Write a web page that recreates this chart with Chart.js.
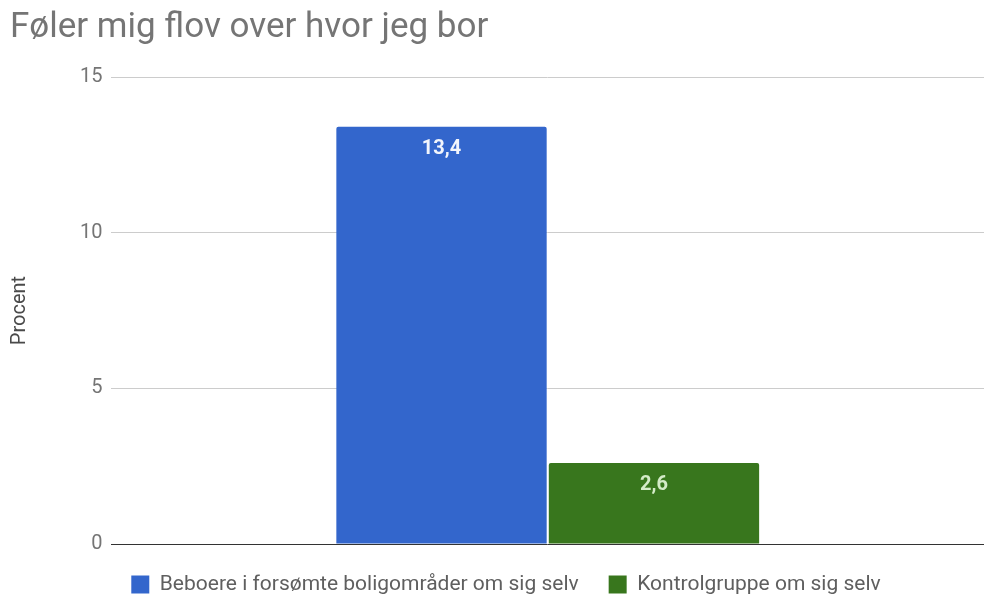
<!DOCTYPE html>
<html>
<head>
<meta charset="utf-8">
<script src="https://cdn.jsdelivr.net/npm/chart.js@4/dist/chart.umd.min.js"></script>
<style>
html,body{margin:0;padding:0;background:#fff;}
#wrap{position:absolute;left:0;top:0;width:984px;height:597px;}
</style>
</head>
<body>
<div id="wrap"><canvas id="c" width="984" height="597"></canvas></div>
<script>
const categories = [""];
const seriesNames = ["Beboere i forsømte boligområder om sig selv", "Kontrolgruppe om sig selv"];
const beboere = [13.4];
const kontrol = [2.6];
const yTicks = [0, 5, 10, 15];
const titleText = "Føler mig flov over hvor jeg bor";
const yTitle = "Procent";

const labelPlugin = {
  id: 'barLabels',
  afterLayout(chart) {
    if (chart.legend) { chart.legend.left += 18; }
  },
  afterDatasetsDraw(chart) {
    const ctx = chart.ctx;
    const colors = ['#f2f5fc', '#d4ebc8'];
    chart.data.datasets.forEach((ds, i) => {
      const meta = chart.getDatasetMeta(i);
      meta.data.forEach((bar, j) => {
        const v = ds.data[j];
        ctx.save();
        ctx.font = 'bold 20px Roboto';
        ctx.fillStyle = colors[i];
        ctx.textAlign = 'center';
        ctx.textBaseline = 'middle';
        ctx.fillText(String(v).replace('.', ','), bar.x, bar.y + 22);
        ctx.restore();
      });
    });
  }
};

new Chart(document.getElementById('c'), {
  type: 'bar',
  data: {
    labels: categories,
    datasets: [
      { label: seriesNames[0], data: beboere, backgroundColor: '#3366cc', borderRadius: {topLeft: 2, topRight: 2}, borderSkipped: 'bottom' },
      { label: seriesNames[1], data: kontrol, backgroundColor: '#38761d', borderRadius: {topLeft: 2, topRight: 2}, borderSkipped: 'bottom' }
    ]
  },
  options: {
    responsive: false,
    animation: false,
    devicePixelRatio: 1,
    categoryPercentage: 0.487,
    barPercentage: 0.99,
    layout: { padding: { left: 10, right: 0, top: 0, bottom: -8 } },
    plugins: {
      title: {
        display: true, text: titleText, align: 'start',
        color: '#757575', font: { family: 'Roboto', size: 35, weight: 'normal', lineHeight: 1.2 },
        padding: { top: 7, bottom: 28 }
      },
      legend: {
        position: 'bottom',
        labels: {
          boxWidth: 18, boxHeight: 18, color: '#5f5f5f',
          font: { family: 'Roboto', size: 21 }, padding: 30
        }
      },
      tooltip: { enabled: false }
    },
    scales: {
      x: {
        display: false
      },
      y: {
        min: 0, max: 15,
        afterBuildTicks(axis) { axis.ticks = yTicks.map(v => ({ value: v })); },
        ticks: { color: '#757575', font: { family: 'Roboto', size: 20 }, padding: 9 },
        grid: {
          drawTicks: false,
          color: (c) => c.tick && c.tick.value === 0 ? '#333333' : '#cccccc'
        },
        border: { display: false },
        title: { display: true, text: yTitle, color: '#4a4a4a', font: { family: 'Roboto', size: 20, lineHeight: 1.2 }, padding: { top: -2, bottom: 39 } }
      }
    }
  },
  plugins: [labelPlugin]
});
</script>
</body>
</html>
